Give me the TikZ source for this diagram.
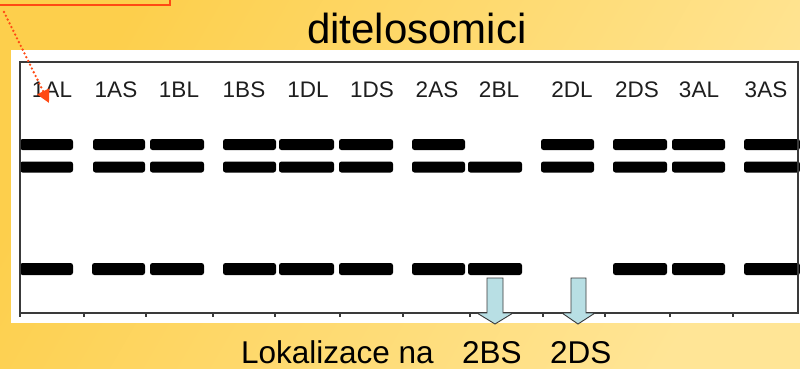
\documentclass[tikz,border=0pt]{standalone}
\usepackage{fontspec}
\setmainfont{Liberation Sans}
\usetikzlibrary{arrows.meta}
\definecolor{bgdark}{HTML}{FDCF4C}
\definecolor{bglight}{HTML}{FFE596}
\definecolor{markred}{HTML}{FF4A14}
\definecolor{framegray}{HTML}{3A3A3A}
\definecolor{arrowfill}{HTML}{B8DFE4}
\definecolor{labelgray}{HTML}{1E1E1E}

\begin{document}
\begin{tikzpicture}[x=1pt,y=-1pt,
  band/.style={fill=black, rounded corners=2.5pt},
  lanelabel/.style={font=\fontsize{22.5}{26}\selectfont, text=labelgray, anchor=base, inner sep=0pt},
  bigtext/.style={font=\fontsize{31.5}{36}\selectfont, text=black, anchor=base west, inner sep=0pt},
  blockarrow/.style={fill=arrowfill, draw=framegray, line width=0.9pt, line join=miter},
  frameline/.style={draw=framegray, line width=1.8pt},
  tick/.style={draw=framegray, line width=1.2pt}]

% background
\useasboundingbox (0,0) rectangle (800,368);
\shade[top color=bgdark, bottom color=bglight, shading angle=60] (0,0) rectangle (800,368);

% red outlined box in the upper left corner
\draw[markred, line width=2pt] (-5,-5) rectangle (170,5);

% title
\node[bigtext, font=\fontsize{42}{48}\selectfont] (title) at (307,43) {ditelosomici};

% white panel with the gel
\fill[white] (11,50) rectangle (800,323);

% bands: row 1
\foreach \a/\b in {20/73, 93/145, 150/204, 223/276, 279/334, 339/393, 412/465, 541/594, 613/667, 672/725, 744/800}
  \fill[band] (\a,139) rectangle (\b,150);
% bands: row 2
\foreach \a/\b in {20/73, 93/145, 150/204, 223/276, 279/334, 339/393, 412/465, 468/522, 541/594, 613/667, 672/725, 744/800}
  \fill[band] (\a,161.5) rectangle (\b,172.5);
% bands: row 3
\foreach \a/\b in {20/73, 92/145, 150/204, 223/276, 279/334, 339/393, 412/465, 468/522, 613/667, 672/725, 744/800}
  \fill[band] (\a,263) rectangle (\b,275);

% frame and axis ticks
\draw[frameline] (20,62) rectangle (798,313);
\foreach \x in {20, 84, 146, 213, 275, 340, 403, 470, 543, 605, 670, 733}
  \draw[tick] (\x,313) -- (\x,316.5);

% lane labels
\foreach \x/\t in {52/1AL, 116/1AS, 179/1BL, 244/1BS, 308/1DL, 372/1DS, 437/2AS, 499/2BL, 572/2DL, 637/2DS, 699/3AL, 766/3AS}
  \node[lanelabel] (lbl\t) at (\x,97) {\t};

% dotted pointer from the red box to the first lane
\coordinate (ptrstart) at (4,12);
\coordinate (ptrend) at (49,103);
\draw[markred, line width=2.6pt, dash pattern=on 0pt off 4.2pt, line cap=round,
      -{Triangle[length=13pt,width=13pt]}] (ptrstart) -- (ptrend);

% block arrows marking the localised arms
\draw[blockarrow] (487,278) -- (503,278) -- (503,313) -- (513,313) -- (495,324) -- (477,313) -- (487,313) -- cycle;
\draw[blockarrow] (571,278) -- (586,278) -- (586,313) -- (595,313) -- (578,324) -- (562,313) -- (571,313) -- cycle;

% caption
\node[bigtext] (loc) at (241,363) {Lokalizace na};
\node[bigtext] (arm2bs) at (462,363) {2BS};
\node[bigtext] (arm2ds) at (550,363) {2DS};
\end{tikzpicture}
\end{document}
